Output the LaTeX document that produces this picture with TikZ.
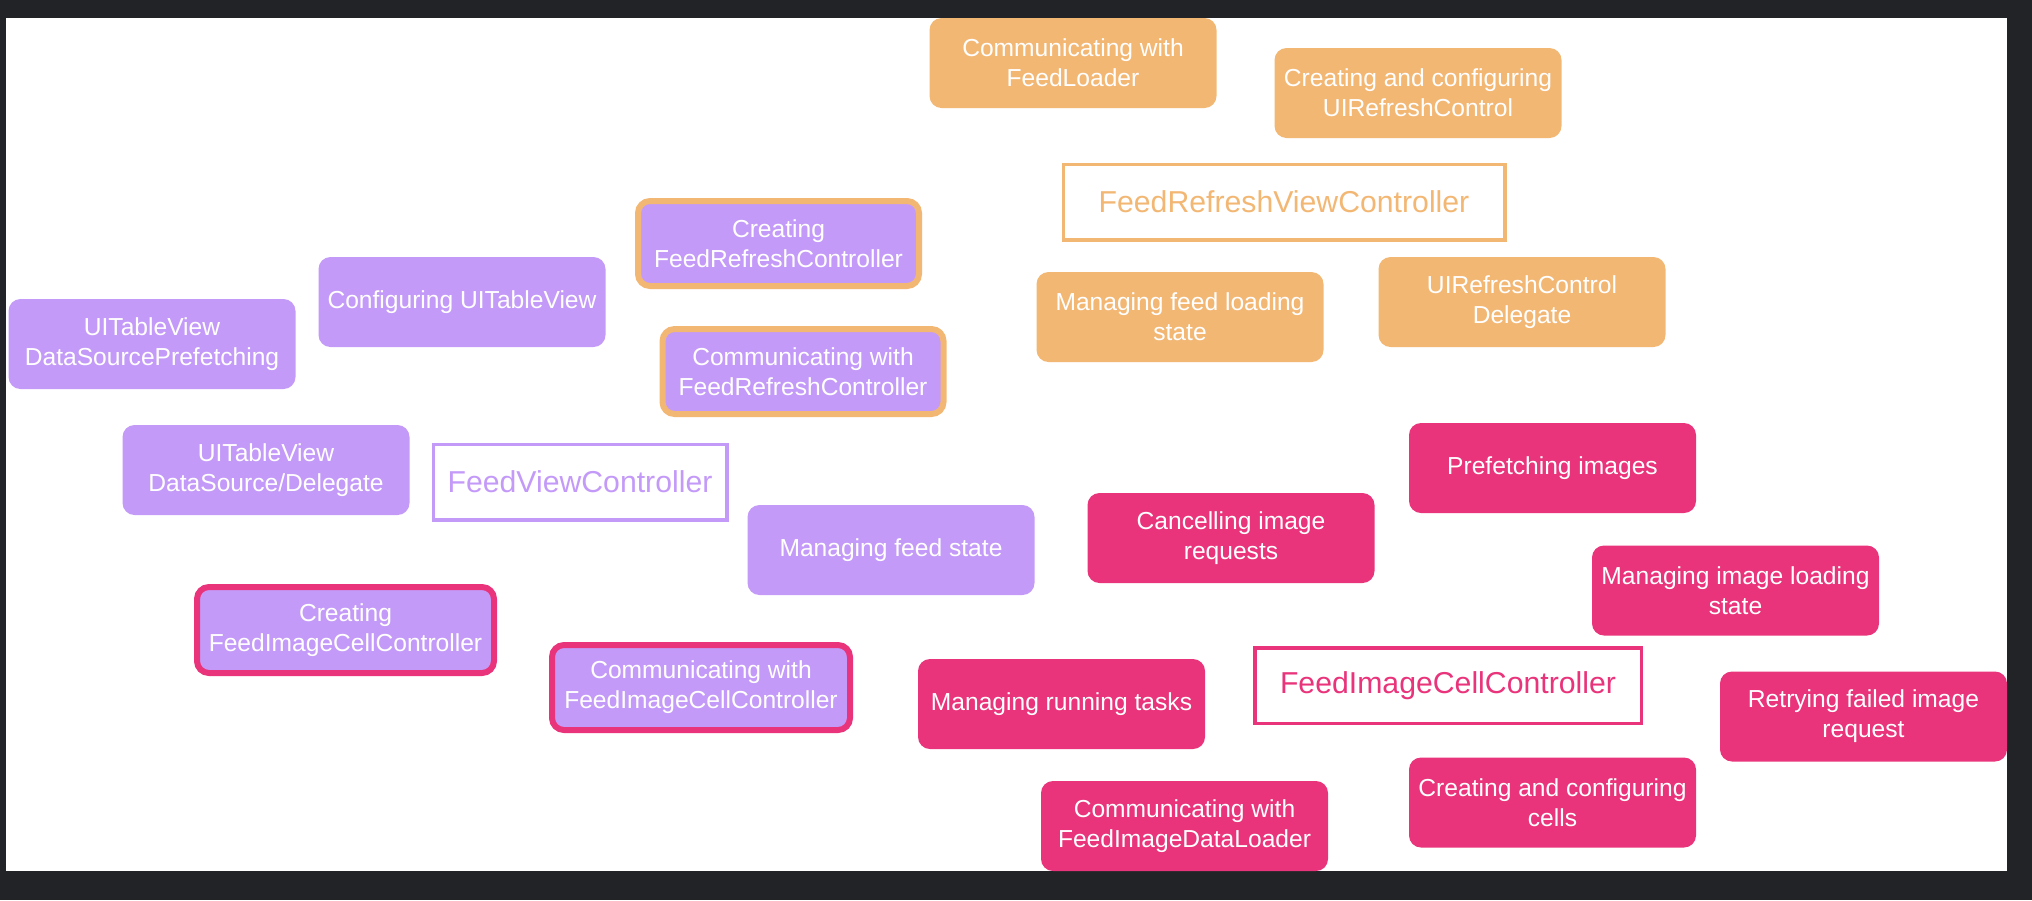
\documentclass[tikz,border=0pt]{standalone}
\usepackage{fontspec}
\setmainfont{Liberation Sans}
\definecolor{pagedark}{RGB}{33,35,39}
\definecolor{vcpurple}{RGB}{196,154,248}
\definecolor{rforange}{RGB}{243,183,116}
\definecolor{cellpink}{RGB}{233,51,122}
\tikzset{
  task/.style={rounded corners=0.12cm,text=white,align=center,inner sep=0pt,
    minimum width=2.87cm,minimum height=0.9cm,font=\fontsize{7}{8.5}\selectfont},
  vctask/.style={task,fill=vcpurple},
  rftask/.style={task,fill=rforange},
  celltask/.style={task,fill=cellpink},
  ringed/.style={line width=0.06cm,minimum width=2.81cm,minimum height=0.85cm},
  owner/.style={draw=#1,text=#1,fill=white,line width=0.035cm,inner sep=0pt,
    minimum height=0.755cm,font=\fontsize{8.6}{10}\selectfont}
}
\begin{document}
\begin{tikzpicture}
\useasboundingbox (0,0) rectangle (20.32,-9);
\fill[pagedark] (0,0) rectangle (20.32,-9);
\fill[white] (0.06,-0.18) rectangle (20.07,-8.71);
% FeedRefreshViewController
\node[owner=rforange,minimum width=4.415cm] (refreshvc) at (12.84,-2.02) {FeedRefreshViewController};
\node[rftask] (loadercomm) at (10.73,-0.63) {Communicating with\\FeedLoader};
\node[rftask] (refreshctl) at (14.18,-0.93) {Creating and configuring\\UIRefreshControl};
\node[rftask] (loadstate) at (11.80,-3.17) {Managing feed loading\\state};
\node[rftask] (refreshdlg) at (15.22,-3.02) {UIRefreshControl\\Delegate};
% FeedViewController
\node[owner=vcpurple,minimum width=2.935cm] (feedvc) at (5.80,-4.82) {FeedViewController};
\node[vctask] (tableconf) at (4.62,-3.02) {Configuring UITableView};
\node[vctask] (prefetchds) at (1.52,-3.44) {UITableView\\DataSourcePrefetching};
\node[vctask] (datasource) at (2.66,-4.70) {UITableView\\DataSource/Delegate};
\node[vctask] (feedstate) at (8.91,-5.50) {Managing feed state};
\node[vctask,ringed,draw=rforange] (refreshmake) at (7.785,-2.435) {Creating\\FeedRefreshController};
\node[vctask,ringed,draw=rforange] (refreshcomm) at (8.03,-3.715) {Communicating with\\FeedRefreshController};
\node[vctask,ringed,draw=cellpink,minimum width=2.97cm,minimum height=0.86cm] (cellmake) at (3.455,-6.30) {Creating\\FeedImageCellController};
\node[vctask,ringed,draw=cellpink,minimum width=2.98cm] (cellcomm) at (7.01,-6.875) {Communicating with\\FeedImageCellController};
% FeedImageCellController
\node[owner=cellpink,minimum width=3.865cm] (cellctl) at (14.48,-6.855) {FeedImageCellController};
\node[celltask] (cancelreq) at (12.31,-5.38) {Cancelling image\\requests};
\node[celltask] (prefetchimg) at (15.525,-4.68) {Prefetching images};
\node[celltask] (imgstate) at (17.355,-5.905) {Managing image loading\\state};
\node[celltask] (runtasks) at (10.615,-7.04) {Managing running tasks};
\node[celltask] (retryreq) at (18.635,-7.165) {Retrying failed image\\request};
\node[celltask] (cellsconf) at (15.525,-8.025) {Creating and configuring\\cells};
\node[celltask] (dataloader) at (11.845,-8.26) {Communicating with\\FeedImageDataLoader};
\end{tikzpicture}
\end{document}
